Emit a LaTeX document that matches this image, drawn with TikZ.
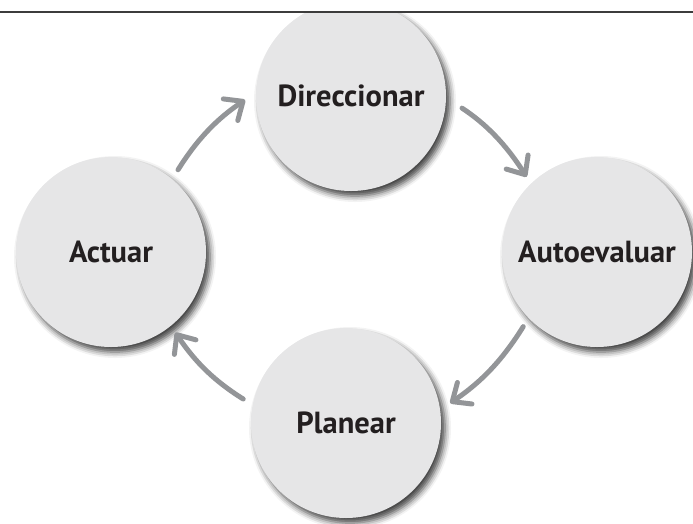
\documentclass[tikz,border=0pt]{standalone}
\usepackage{fontspec}
\setmainfont{PT Sans}
\usetikzlibrary{arrows.meta,shadows.blur}
\definecolor{stagefill}{HTML}{E6E6E7}
\definecolor{stagetext}{HTML}{231F20}
\definecolor{arrowgray}{HTML}{939598}
\definecolor{rulegray}{HTML}{3C3C3C}
\begin{document}
\begin{tikzpicture}[x=1pt, y=-1pt]
                    \tikzstyle{stage} = [circle, minimum size=190pt, inner sep=0pt, fill=stagefill, text=stagetext,
                        font=\fontsize{30.5}{34}\selectfont\bfseries,
                        blur shadow={shadow xshift=4pt, shadow yshift=-5pt, shadow blur radius=6pt, shadow opacity=75}]
                    \tikzstyle{cyc} = [draw=arrowgray, line width=5pt, line cap=round,
                        -{Straight Barb[length=15pt, width=26pt, round]}]
                    \useasboundingbox (0,0) rectangle (693,523);
                    \begin{scope}
                        \clip (0,12) rectangle (693,523);
                        \node[stage] (dir) at (351,96)  {Direccionar};
                        \node[stage] (aut) at (597,252) {Autoevaluar};
                        \node[stage] (pla) at (346,423) {Planear};
                        \node[stage] (act) at (111,252) {Actuar};
                    \end{scope}
                    \draw[rulegray, line width=1.5pt] (0,12) -- (693,12);
                    % ciclo
                    \draw[cyc, shorten <=11pt, shorten >=13pt] (act.50)  to[bend left=12] (dir.178);
                    \draw[cyc, shorten <=19pt, shorten >=8pt]  (dir.-1)  to[bend left=12] (aut.134);
                    \draw[cyc, shorten <=10pt, shorten >=12pt] (aut.224) to[bend left=12] (pla.8);
                    \draw[cyc, shorten <=11pt, shorten >=8pt]  (pla.169) to[bend left=12] (act.-51);
\end{tikzpicture}
\end{document}
